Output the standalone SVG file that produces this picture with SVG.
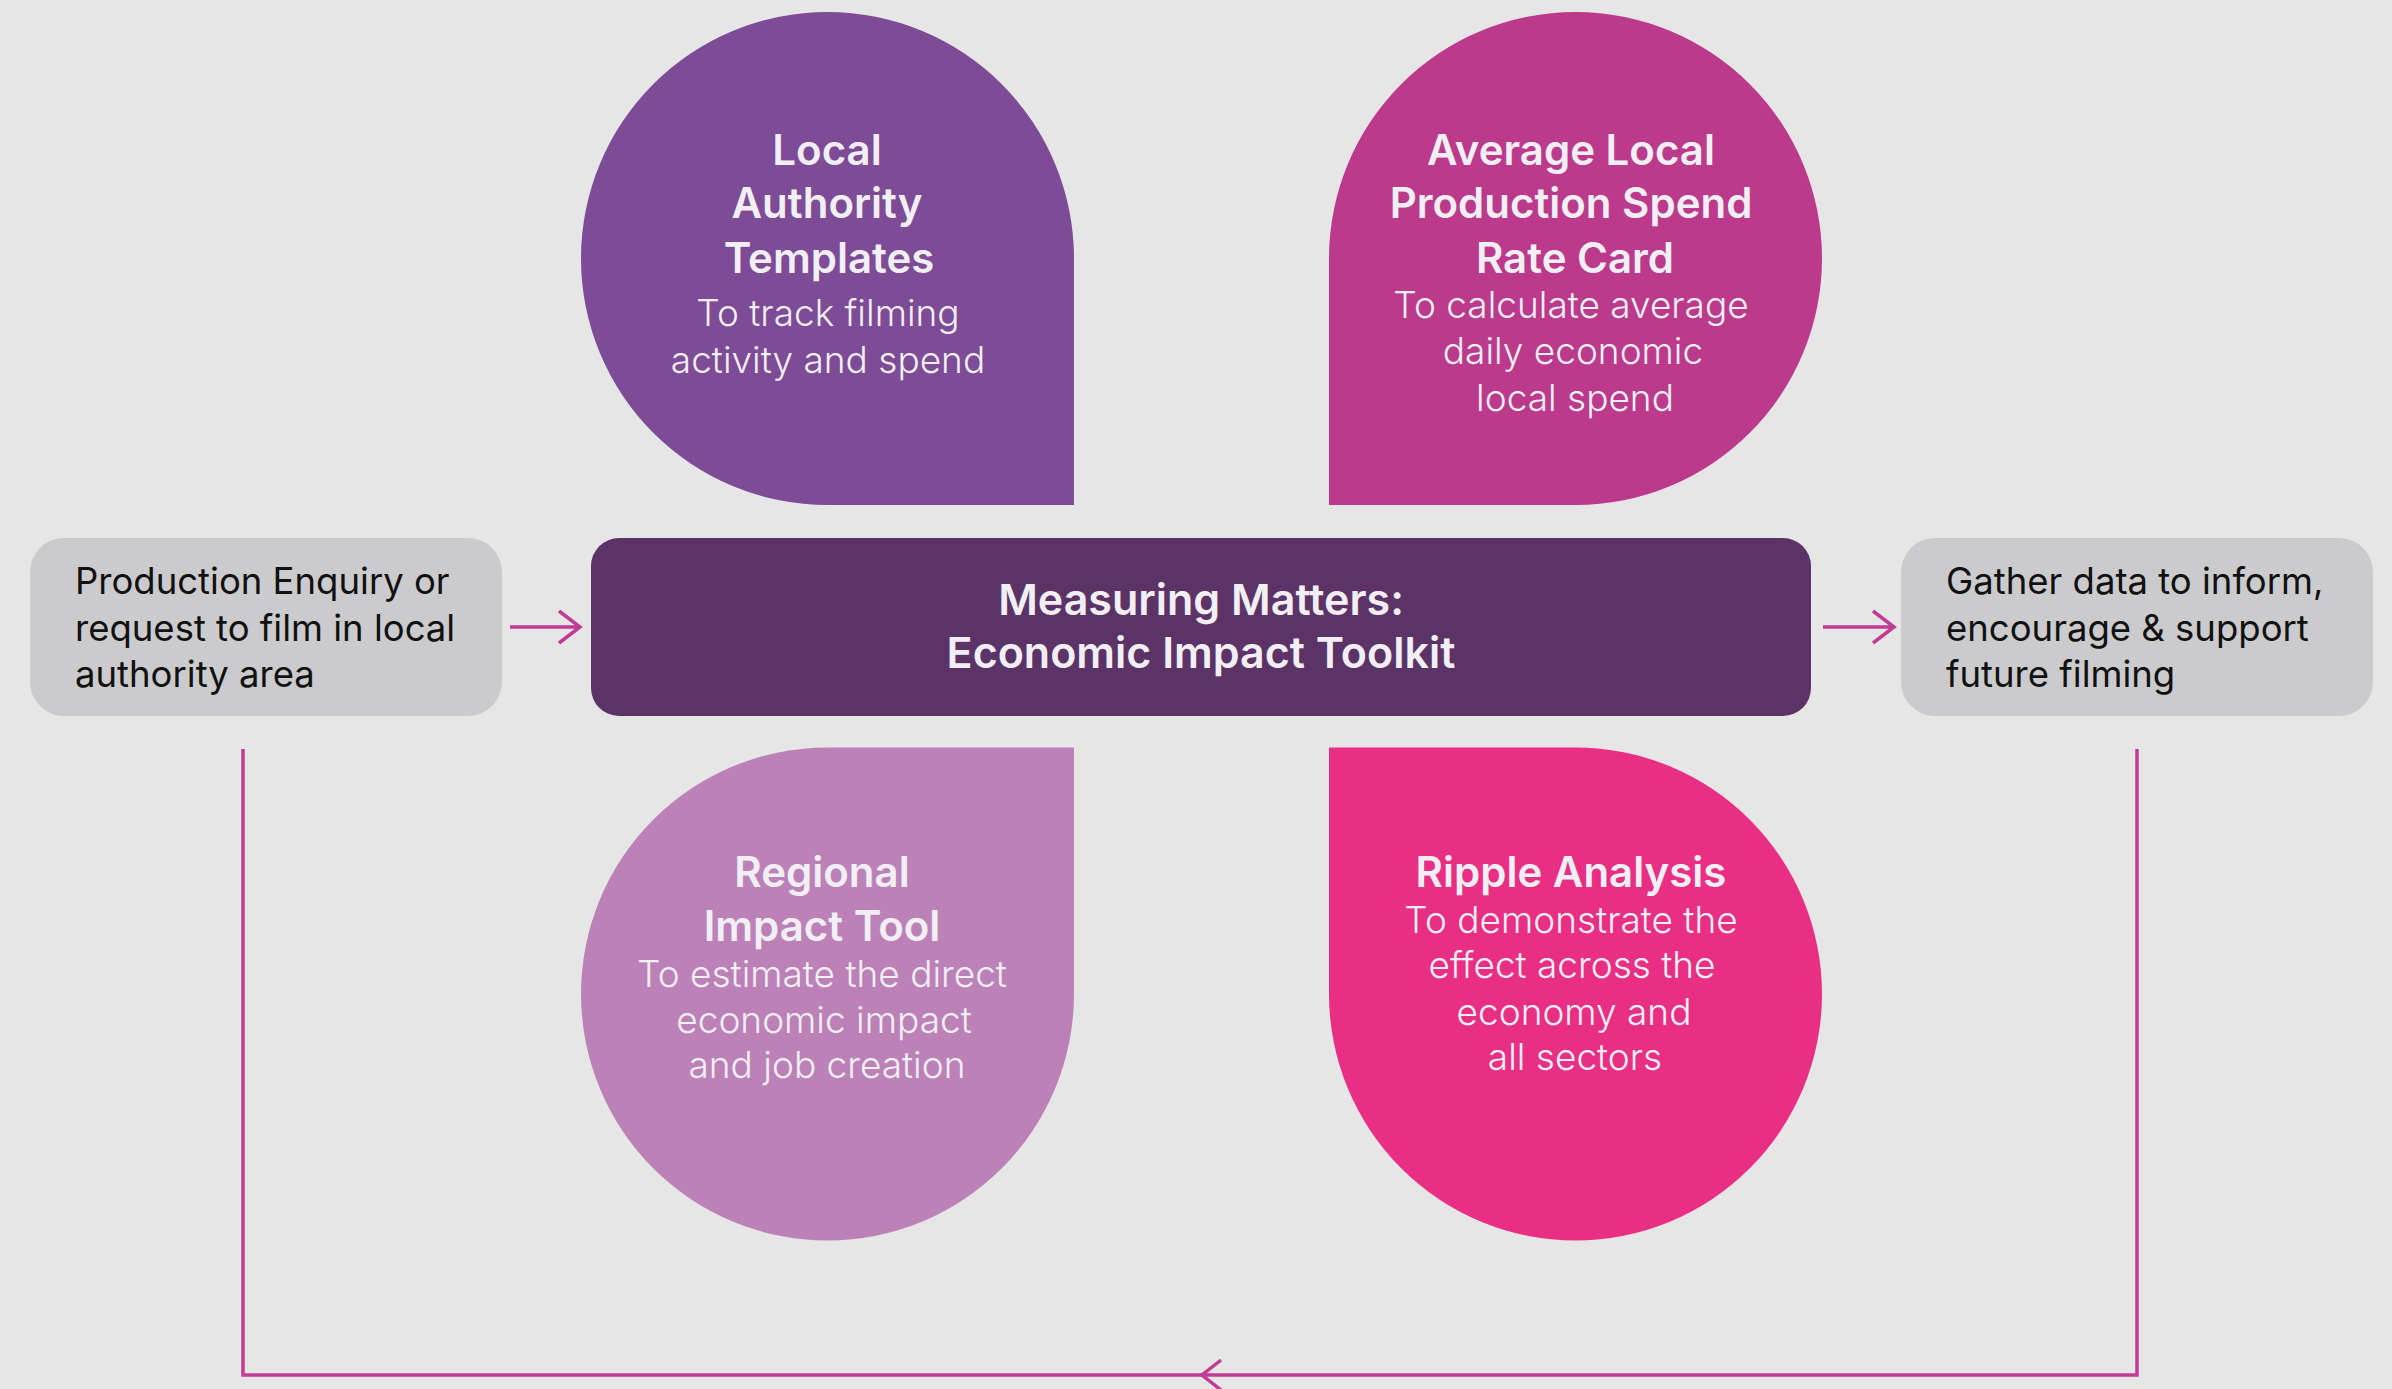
<svg xmlns="http://www.w3.org/2000/svg" width="2392" height="1389" viewBox="0 0 2392 1389">
  <defs>
    <style>
      .bg { fill: #e6e6e6; }
      .grey { fill: #cbcbcd; }
      .core { fill: #5c3366; }
      .title { font-family: Inter, "Open Sans", sans-serif; font-weight: 600; font-size: 42px; fill: #f1eff4; text-anchor: middle; }
      .sub { font-family: Inter, "Open Sans", sans-serif; font-weight: 300; font-size: 37px; fill: #f1eff4; text-anchor: middle; }
      .box { font-family: Inter, "Open Sans", sans-serif; font-weight: 400; font-size: 36.5px; fill: #111111; }
      .link { fill: none; stroke: #c13d95; stroke-width: 3.5; stroke-linecap: butt; stroke-linejoin: miter; }
    </style>
  </defs>

  <rect class="bg" x="0" y="0" width="2392" height="1389"/>

  <!-- feedback loop and flow arrows -->
  <g id="connectors">
    <path class="link" d="M510 627 H580 M559 611 L580 627 L559 643"/>
    <path class="link" d="M1823 627 H1894 M1873 611 L1894 627 L1873 643"/>
    <path class="link" d="M2137 749 V1375 H243 V749"/>
    <path class="link" d="M1221 1360 L1202 1375 L1221 1390"/>
  </g>

  <!-- input -->
  <g id="enquiry">
    <rect class="grey" x="30" y="538" width="472" height="178" rx="34"/>
    <text class="box" x="75" y="594">Production Enquiry or</text>
    <text class="box" x="75" y="641">request to film in local</text>
    <text class="box" x="75" y="687">authority area</text>
  </g>

  <!-- central toolkit -->
  <g id="toolkit">
    <rect class="core" x="591" y="538" width="1220" height="178" rx="28"/>
    <text class="title" x="1201" y="615" style="font-size:43px">Measuring Matters:</text>
    <text class="title" x="1201" y="668" style="font-size:43px">Economic Impact Toolkit</text>
  </g>

  <!-- output -->
  <g id="gather">
    <rect class="grey" x="1901" y="538" width="472" height="178" rx="34"/>
    <text class="box" x="1946" y="594">Gather data to inform,</text>
    <text class="box" x="1946" y="641">encourage &amp; support</text>
    <text class="box" x="1946" y="687">future filming</text>
  </g>

  <!-- tool petals -->
  <g id="templates">
    <path fill="#7e4b96" d="M581 258.5 A246.5 246.5 0 0 1 827.5 12 A246.5 246.5 0 0 1 1074 258.5 V505 H827.5 A246.5 246.5 0 0 1 581 258.5 Z"/>
    <text class="title" x="827" y="165">Local</text>
    <text class="title" x="827" y="218">Authority</text>
    <text class="title" x="829" y="273">Templates</text>
    <text class="sub" x="828" y="326">To track filming</text>
    <text class="sub" x="828" y="373">activity and spend</text>
  </g>

  <g id="rate-card">
    <path fill="#bb3a8c" d="M1329 258.5 A246.5 246.5 0 0 1 1575.5 12 A246.5 246.5 0 0 1 1822 258.5 A246.5 246.5 0 0 1 1575.5 505 H1329 Z"/>
    <text class="title" x="1571" y="165">Average Local</text>
    <text class="title" x="1571" y="218">Production Spend</text>
    <text class="title" x="1575" y="273">Rate Card</text>
    <text class="sub" x="1571" y="318">To calculate average</text>
    <text class="sub" x="1573" y="364">daily economic</text>
    <text class="sub" x="1575" y="411">local spend</text>
  </g>

  <g id="regional-impact">
    <path fill="#bc82b8" d="M827.5 747.5 H1074 V994 A246.5 246.5 0 0 1 827.5 1240.5 A246.5 246.5 0 0 1 581 994 A246.5 246.5 0 0 1 827.5 747.5 Z"/>
    <text class="title" x="822" y="887">Regional</text>
    <text class="title" x="822" y="941">Impact Tool</text>
    <text class="sub" x="822" y="987">To estimate the direct</text>
    <text class="sub" x="824" y="1033">economic impact</text>
    <text class="sub" x="827" y="1078">and job creation</text>
  </g>

  <g id="ripple">
    <path fill="#e82f84" d="M1329 747.5 H1575.5 A246.5 246.5 0 0 1 1822 994 A246.5 246.5 0 0 1 1575.5 1240.5 A246.5 246.5 0 0 1 1329 994 Z"/>
    <text class="title" x="1571" y="887">Ripple Analysis</text>
    <text class="sub" x="1571" y="933">To demonstrate the</text>
    <text class="sub" x="1572" y="978">effect across the</text>
    <text class="sub" x="1574" y="1025">economy and</text>
    <text class="sub" x="1575" y="1070">all sectors</text>
  </g>
</svg>
